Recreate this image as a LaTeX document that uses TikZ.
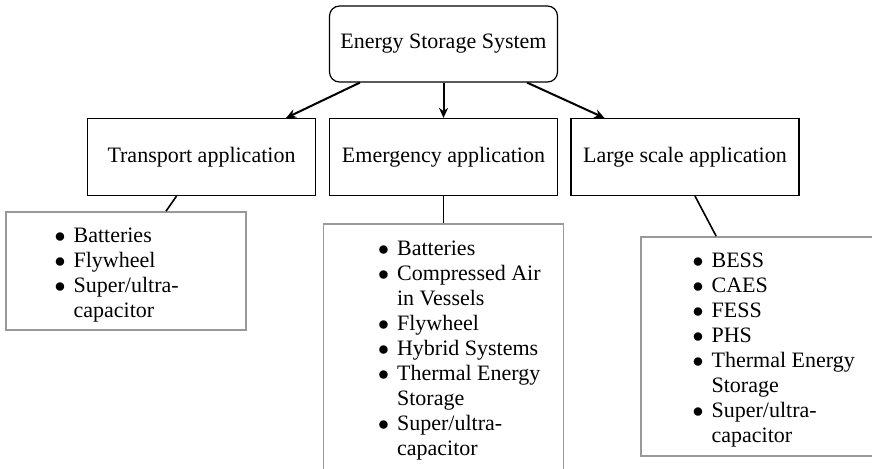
\documentclass[tikz,border=0pt]{standalone}
\usepackage{fontspec}
\setmainfont{Liberation Serif}
\usetikzlibrary{arrows.meta,calc}

\newcommand{\bul}{\makebox[9.5pt][l]{$\bullet$}}
\newcommand{\ind}{\hspace*{9.5pt}}

\begin{document}
\begin{tikzpicture}[x=0.5pt,y=0.5pt,yscale=-1,xscale=1,
  every node/.style={font=\fontsize{11}{12.5}\selectfont},
  headbox/.style={draw,line width=0.6pt,minimum width=114pt,minimum height=38.5pt,inner sep=0pt},
  listbox/.style={draw=black!40,line width=0.8pt,inner sep=0pt},
  listtext/.style={anchor=base west,inner sep=0pt},
  arr/.style={line width=1pt,-{Stealth[length=5pt,width=4.5pt]}},
  link/.style={line width=0.8pt}]
\useasboundingbox (0,0) rectangle (872,468);
\clip (0,0) rectangle (872,468);

%Shape: top box
\node[headbox,rounded corners=5pt,minimum height=38pt] (ess) at (443.5,44) {Energy Storage System};

%Shape: application boxes
\node[headbox] (trans) at (201.5,157) {Transport application};
\node[headbox] (emerg) at (443.5,157) {Emergency application};
\node[headbox] (large) at (685,157) {Large scale application};

%Shape: list boxes
\node[listbox,minimum width=120pt,minimum height=59pt] (tlist) at (126,271) {};
\node[listbox,minimum width=120pt,minimum height=138pt] (elist) at (443.5,362) {};
\node[listbox,minimum width=129pt,minimum height=109.5pt] (llist) at (770,346.5) {};

%Text: lists
\node[listtext] (ttext) at ($(tlist.north west)+(49,31)$) {\begin{tabular}[t]{@{}l@{}}
\bul Batteries\\
\bul Flywheel\\
\bul Super/ultra-\\
\ind capacitor
\end{tabular}};
\node[listtext] (etext) at ($(elist.north west)+(55,32)$) {\begin{tabular}[t]{@{}l@{}}
\bul Batteries\\
\bul Compressed Air\\
\ind in Vessels\\
\bul Flywheel\\
\bul Hybrid Systems\\
\bul Thermal Energy\\
\ind Storage\\
\bul Super/ultra-\\
\ind capacitor
\end{tabular}};
\node[listtext] (ltext) at ($(llist.north west)+(52,31)$) {\begin{tabular}[t]{@{}l@{}}
\bul BESS\\
\bul CAES\\
\bul FESS\\
\bul PHS\\
\bul Thermal Energy\\
\ind Storage\\
\bul Super/ultra-\\
\ind capacitor
\end{tabular}};

%Arrows
\draw[arr] ($(ess.south west)+(31,0)$) -- ($(trans.north east)+(-30,0)$);
\draw[arr] (ess.south) -- (emerg.north);
\draw[arr] ($(ess.south east)+(-31,0)$) -- ($(large.north west)+(34,0)$);

%Straight Lines
\draw[link] ($(trans.south)+(-25,0)$) -- ($(tlist.north)+(40,0)$);
\draw[link] (emerg.south) -- (elist.north);
\draw[link] ($(large.south)+(10,0)$) -- ($(llist.north west)+(76,0)$);

\end{tikzpicture}
\end{document}
